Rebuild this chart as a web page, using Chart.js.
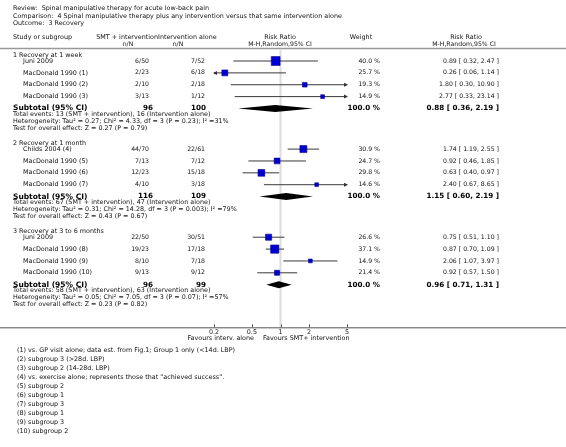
<!DOCTYPE html>
<html>
<head>
<meta charset="utf-8">
<script src="https://cdn.jsdelivr.net/npm/chart.js@4.4.0/dist/chart.umd.min.js"></script>
<style>
  html, body { margin: 0; padding: 0; background: #fff; }
  canvas { display: block; }
</style>
</head>
<body>
<canvas id="forest" width="566" height="447"></canvas>
<script>
// ---- data ----
const groupTitles = ['1 Recovery at 1 week', '2 Recovery at 1 month', '3 Recovery at 3 to 6 months'];
const studyNames = ['Juni 2009', 'MacDonald 1990 (1)', 'MacDonald 1990 (2)', 'MacDonald 1990 (3)',
  'Childs 2004 (4)', 'MacDonald 1990 (5)', 'MacDonald 1990 (6)', 'MacDonald 1990 (7)',
  'Juni 2009', 'MacDonald 1990 (8)', 'MacDonald 1990 (9)', 'MacDonald 1990 (10)'];
const studyGroup = [0, 0, 0, 0, 1, 1, 1, 1, 2, 2, 2, 2];
const smtEvents = [6, 2, 2, 3, 44, 7, 12, 4, 22, 19, 8, 9];
const smtTotal = [50, 23, 10, 13, 70, 13, 23, 10, 50, 23, 10, 13];
const ctlEvents = [7, 6, 2, 1, 22, 7, 15, 3, 30, 17, 7, 9];
const ctlTotal = [52, 18, 18, 12, 61, 12, 18, 18, 51, 18, 18, 12];
const weights = [40.0, 25.7, 19.3, 14.9, 30.9, 24.7, 29.8, 14.6, 26.6, 37.1, 14.9, 21.4];
const rr = [0.89, 0.26, 1.80, 2.77, 1.74, 0.92, 0.63, 2.40, 0.75, 0.87, 2.06, 0.92];
const rrLow = [0.32, 0.06, 0.30, 0.33, 1.19, 0.46, 0.40, 0.67, 0.51, 0.70, 1.07, 0.57];
const rrHigh = [2.47, 1.14, 10.90, 23.14, 2.55, 1.85, 0.97, 8.65, 1.10, 1.09, 3.97, 1.50];

const subRR = [0.88, 1.15, 0.96];
const subLow = [0.36, 0.60, 0.71];
const subHigh = [2.19, 2.19, 1.31];
const subSmtN = [96, 116, 96];
const subCtlN = [100, 109, 99];
const subEvSmt = [13, 67, 58];
const subEvCtl = [16, 47, 63];
const subTau = ['0.27', '0.31', '0.05'];
const subChi = ['4.33', '14.28', '7.05'];
const subChiP = ['0.23', '0.003', '0.07'];
const subI2 = [31, 79, 57];
const subZ = ['0.27', '0.43', '0.23'];
const subZP = ['0.79', '0.67', '0.82'];

const tickValues = [0.2, 0.5, 1, 2, 5];
const tickLabels = ['0.2', '0.5', '1', '2', '5'];

const footnotes = [
  '(1) vs. GP visit alone; data est. from Fig.1; Group 1 only (<14d. LBP)',
  '(2) subgroup 3 (>28d. LBP)',
  '(3) subgroup 2 (14-28d. LBP)',
  '(4) vs. exercise alone; represents those that "achieved success".',
  '(5) subgroup 2',
  '(6) subgroup 1',
  '(7) subgroup 3',
  '(8) subgroup 1',
  '(9) subgroup 3',
  '(10) subgroup 2'
];

// ---- row layout (offsets below the top of the plot area) ----
const studyStep = 11.85;
const groupRow = [], subRow = [], studyRow = [];
let yy = 5;
groupTitles.forEach((g, gi) => {
  groupRow.push(yy);
  yy += 6;
  studyNames.forEach((n, i) => {
    if (studyGroup[i] === gi) { studyRow[i] = yy; yy += studyStep; }
  });
  subRow.push(yy);
  yy += 34.6;
});

const FONT = '"DejaVu Sans", Verdana, sans-serif';
const squareSide = w => 0.2 * w + 0.8;

const studyPoints = rr.map((v, i) => ({ x: v, y: studyRow[i] }));
const ciPoints = [];
rr.forEach((v, i) => {
  ciPoints.push({ x: rrLow[i], y: studyRow[i] });
  ciPoints.push({ x: rrHigh[i], y: studyRow[i] });
  ciPoints.push({ x: rrHigh[i], y: null });
});

function txt(ctx, s, x, y, align, size, bold, color) {
  ctx.font = (bold ? 'bold ' : '') + size + 'px ' + FONT;
  ctx.textAlign = align || 'left';
  ctx.textBaseline = 'middle';
  ctx.fillStyle = color || '#111';
  ctx.fillText(s, x, y);
}

const forestPlugin = {
  id: 'forest',
  beforeDatasetsDraw(chart) {
    const { ctx, chartArea, scales } = chart;
    const x1 = scales.x.getPixelForValue(1);
    ctx.save();
    ctx.strokeStyle = '#dcdcdc';
    ctx.lineWidth = 2;
    ctx.beginPath();
    ctx.moveTo(x1, chartArea.top);
    ctx.lineTo(x1, chartArea.bottom);
    ctx.stroke();
    ctx.restore();
  },
  afterDatasetsDraw(chart) {
    const { ctx, chartArea, scales } = chart;
    const xs = scales.x, ys = scales.y;
    const W = chart.width;
    ctx.save();

    // arrows where the CI runs off the scale
    ctx.fillStyle = '#333';
    rr.forEach((v, i) => {
      const py = ys.getPixelForValue(studyRow[i]);
      if (rrLow[i] < xs.min) {
        const px = chartArea.left;
        ctx.beginPath();
        ctx.moveTo(px - 1, py); ctx.lineTo(px + 3, py - 2); ctx.lineTo(px + 3, py + 2); ctx.closePath(); ctx.fill();
      }
      if (rrHigh[i] > xs.max) {
        const px = chartArea.right;
        ctx.beginPath();
        ctx.moveTo(px + 1, py); ctx.lineTo(px - 3, py - 2); ctx.lineTo(px - 3, py + 2); ctx.closePath(); ctx.fill();
      }
    });

    // pooled diamonds
    ctx.fillStyle = '#000';
    subRR.forEach((v, g) => {
      const py = ys.getPixelForValue(subRow[g]);
      ctx.beginPath();
      ctx.moveTo(xs.getPixelForValue(subLow[g]), py);
      ctx.lineTo(xs.getPixelForValue(v), py - 3.5);
      ctx.lineTo(xs.getPixelForValue(subHigh[g]), py);
      ctx.lineTo(xs.getPixelForValue(v), py + 3.5);
      ctx.closePath();
      ctx.fill();
    });

    // axis line across the page and tick marks
    ctx.strokeStyle = '#555';
    ctx.lineWidth = 1;
    ctx.beginPath();
    ctx.moveTo(0, chartArea.bottom + 0.5);
    ctx.lineTo(W, chartArea.bottom + 0.5);
    tickValues.forEach(t => {
      const px = Math.round(xs.getPixelForValue(t)) + 0.5;
      ctx.moveTo(px, chartArea.bottom - 3);
      ctx.lineTo(px, chartArea.bottom);
    });
    ctx.stroke();

    // header
    txt(ctx, 'Review:  Spinal manipulative therapy for acute low-back pain', 13, 8, 'left', 6.4);
    txt(ctx, 'Comparison:  4 Spinal manipulative therapy plus any intervention versus that same intervention alone', 13, 16, 'left', 6.4);
    txt(ctx, 'Outcome:  3 Recovery', 13, 23, 'left', 6.4);
    txt(ctx, 'Study or subgroup', 13, 37, 'left', 6.4);
    txt(ctx, 'SMT + intervention', 158, 37, 'right', 6.4);
    txt(ctx, 'Intervention alone', 158, 37, 'left', 6.4);
    txt(ctx, 'n/N', 128, 44, 'center', 6.2);
    txt(ctx, 'n/N', 178, 44, 'center', 6.2);
    txt(ctx, 'Risk Ratio', 280, 37, 'center', 6.4);
    txt(ctx, 'M-H,Random,95% CI', 280, 44, 'center', 6.2);
    txt(ctx, 'Weight', 361, 37, 'center', 6.4);
    txt(ctx, 'Risk Ratio', 466, 37, 'center', 6.4);
    txt(ctx, 'M-H,Random,95% CI', 464, 44, 'center', 6.2);
    ctx.strokeStyle = '#999';
    ctx.lineWidth = 1.5;
    ctx.beginPath();
    ctx.moveTo(0, 48.5); ctx.lineTo(W, 48.5);
    ctx.stroke();

    // table rows
    groupTitles.forEach((g, gi) => {
      txt(ctx, g, 13, ys.getPixelForValue(groupRow[gi]), 'left', 6.4);
    });
    studyNames.forEach((n, i) => {
      const py = ys.getPixelForValue(studyRow[i]);
      txt(ctx, n, 23, py, 'left', 6.4);
      txt(ctx, smtEvents[i] + '/' + smtTotal[i], 149, py, 'right', 6.2);
      txt(ctx, ctlEvents[i] + '/' + ctlTotal[i], 205, py, 'right', 6.2);
      txt(ctx, weights[i].toFixed(1) + ' %', 380, py, 'right', 6.2);
      txt(ctx, rr[i].toFixed(2) + ' [ ' + rrLow[i].toFixed(2) + ', ' + rrHigh[i].toFixed(2) + ' ]', 499, py, 'right', 6.2);
    });
    subRR.forEach((v, g) => {
      const py = ys.getPixelForValue(subRow[g]);
      txt(ctx, 'Subtotal (95% CI)', 13, py, 'left', 7.5, true, '#000');
      txt(ctx, String(subSmtN[g]), 153, py, 'right', 7.2, true, '#000');
      txt(ctx, String(subCtlN[g]), 206, py, 'right', 7.2, true, '#000');
      txt(ctx, '100.0 %', 380, py, 'right', 7.2, true, '#000');
      txt(ctx, v.toFixed(2) + ' [ ' + subLow[g].toFixed(2) + ', ' + subHigh[g].toFixed(2) + ' ]', 499, py, 'right', 7.2, true, '#000');
      txt(ctx, 'Total events: ' + subEvSmt[g] + ' (SMT + intervention), ' + subEvCtl[g] + ' (Intervention alone)',
        13, ys.getPixelForValue(subRow[g] + 6), 'left', 6.4);
      txt(ctx, 'Heterogeneity: Tau\u00b2 = ' + subTau[g] + '; Chi\u00b2 = ' + subChi[g] + ', df = 3 (P = ' + subChiP[g] + '); I\u00b2 =' + subI2[g] + '%',
        13, ys.getPixelForValue(subRow[g] + 13), 'left', 6.4);
      txt(ctx, 'Test for overall effect: Z = ' + subZ[g] + ' (P = ' + subZP[g] + ')',
        13, ys.getPixelForValue(subRow[g] + 20), 'left', 6.4);
    });

    // favours labels
    txt(ctx, 'Favours interv. alone', 254, chartArea.bottom + 11, 'right', 6.4);
    txt(ctx, 'Favours SMT+ intervention', 263, chartArea.bottom + 11, 'left', 6.4);

    // footnotes
    footnotes.forEach((f, i) => txt(ctx, f, 17, 350 + 9 * i, 'left', 6.4));
    ctx.restore();
  }
};

const chart = new Chart(document.getElementById('forest'), {
  type: 'scatter',
  data: {
    datasets: [{
      label: 'Studies',
      data: studyPoints,
      pointStyle: 'rect',
      pointRadius: c => squareSide(weights[c.dataIndex]) / Math.SQRT2,
      backgroundColor: '#0000d4',
      borderColor: '#00008c',
      borderWidth: 0.6,
      order: 0
    }, {
      label: 'CI',
      data: ciPoints,
      showLine: true,
      spanGaps: false,
      pointRadius: 0,
      borderColor: '#3a3a3a',
      borderWidth: 1,
      order: 1
    }]
  },
  options: {
    responsive: false,
    animation: false,
    devicePixelRatio: 1,
    events: [],
    layout: { padding: { left: 214, right: 219, top: 50, bottom: 110 } },
    plugins: { legend: { display: false }, tooltip: { enabled: false } },
    scales: {
      x: {
        type: 'logarithmic',
        min: 0.2,
        max: 5,
        afterBuildTicks: s => { s.ticks = tickValues.map(v => ({ value: v })); },
        ticks: {
          autoSkip: false,
          maxRotation: 0,
          padding: 1,
          color: '#222',
          font: { family: FONT, size: 6.4 },
          callback: (v, i) => tickLabels[i]
        },
        grid: { display: false, drawTicks: false },
        border: { display: false }
      },
      y: { type: 'linear', min: 0, max: 277, reverse: true, display: false }
    }
  },
  plugins: [forestPlugin]
});
</script>
</body>
</html>
